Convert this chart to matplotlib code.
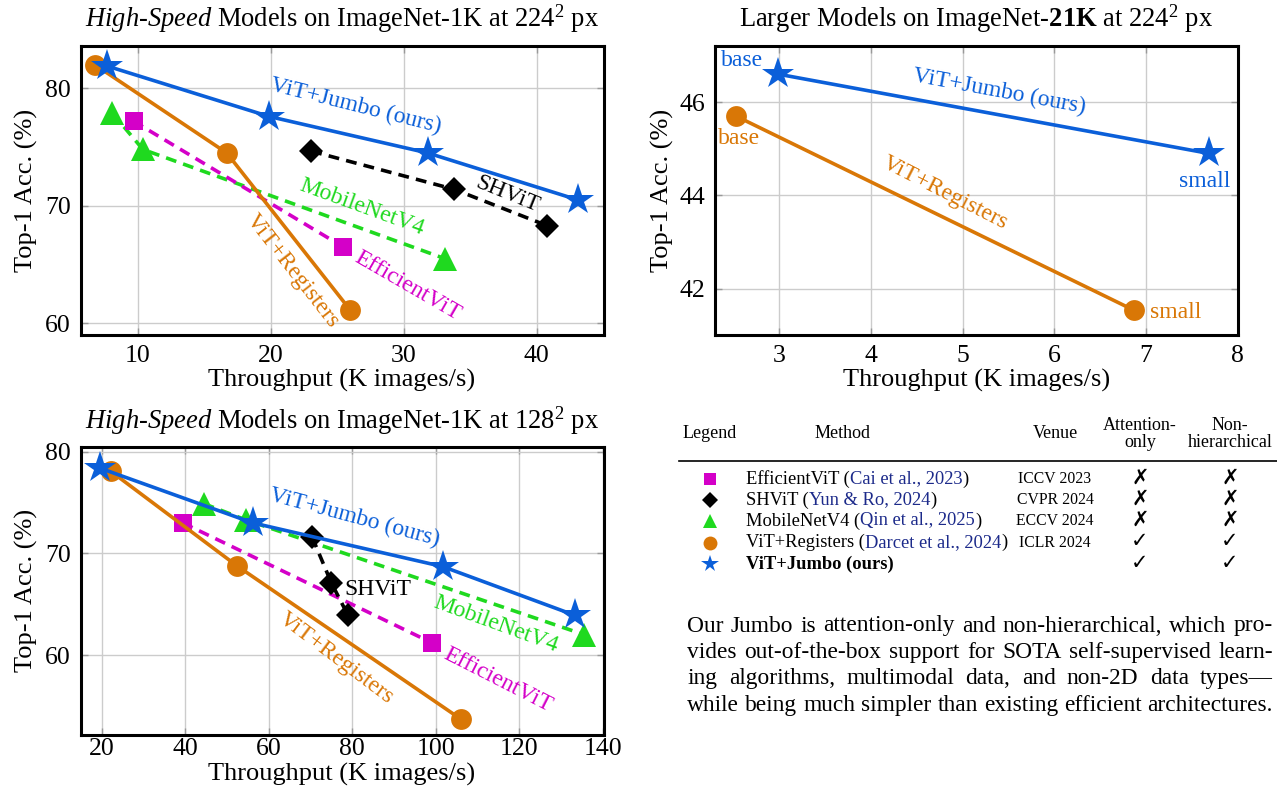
import matplotlib
matplotlib.use('Agg')
import matplotlib.pyplot as plt

plt.rcParams['font.family'] = ['Liberation Serif', 'DejaVu Sans']
plt.rcParams['mathtext.fontset'] = 'custom'
plt.rcParams['mathtext.rm'] = 'Liberation Serif'
plt.rcParams['mathtext.it'] = 'Liberation Serif:italic'
plt.rcParams['mathtext.bf'] = 'Liberation Serif:bold'

BLUE = '#0b5fd9'
ORANGE = '#d97706'
GREEN = '#1fd91f'
MAGENTA = '#d400c8'
CITE = '#1c2a8a'

# ImageNet-1K at 224px (throughput in K images/s, top-1 in %)
tp224_jumbo = [7.7, 19.9, 31.8, 43.1]
acc224_jumbo = [81.9, 77.6, 74.5, 70.5]
tp224_reg = [6.8, 16.7, 26.0]
acc224_reg = [82.0, 74.5, 61.1]
tp224_shvit = [23.05, 33.8, 40.8]
acc224_shvit = [74.65, 71.4, 68.3]
tp224_mnv4 = [8.1, 10.4, 33.1]
acc224_mnv4 = [77.9, 74.8, 65.5]
tp224_effvit = [9.7, 25.45]
acc224_effvit = [77.2, 66.5]

# ImageNet-21K at 224px
tp21k_jumbo = [2.99, 7.69]
acc21k_jumbo = [46.6, 44.9]
tp21k_reg = [2.53, 6.87]
acc21k_reg = [45.7, 41.54]

# ImageNet-1K at 128px
tp128_jumbo = [19.5, 56.2, 101.7, 133.4]
acc128_jumbo = [78.4, 73.0, 68.7, 63.9]
tp128_reg = [22.1, 52.3, 106.0]
acc128_reg = [78.1, 68.8, 53.7]
tp128_shvit = [70.4, 75.0, 79.0]
acc128_shvit = [71.6, 67.1, 63.9]
tp128_mnv4 = [44.4, 54.5, 135.6]
acc128_mnv4 = [74.9, 73.3, 62.0]
tp128_effvit = [39.4, 99.1]
acc128_effvit = [73.0, 61.2]

styles = {
    'mnv4': dict(color=GREEN, marker='^', ms=17, ls=(0, (3, 2))),
    'effvit': dict(color=MAGENTA, marker='s', ms=13, ls=(0, (3, 2))),
    'shvit': dict(color='black', marker='D', ms=12, ls=(0, (3, 2))),
    'reg': dict(color=ORANGE, marker='o', ms=15, ls='-'),
    'jumbo': dict(color=BLUE, marker='*', ms=24, ls='-'),
}

fig = plt.figure(figsize=(12.77, 7.91), dpi=100)


def draw(ax, key, x, y):
    s = styles[key]
    ax.plot(x, y, color=s['color'], marker=s['marker'], markersize=s['ms'],
            linestyle=s['ls'], linewidth=2.6, markeredgewidth=0)


def style_axes(ax, xlim, ylim, xticks, yticks, xpad, xlab_y):
    ax.set_xlim(xlim)
    ax.set_ylim(ylim)
    ax.set_xticks(xticks)
    ax.set_yticks(yticks)
    ax.grid(True, color='#cccccc', linewidth=1.0)
    ax.set_axisbelow(True)
    for sp in ax.spines.values():
        sp.set_linewidth(2.2)
    ax.tick_params(direction='in', length=5, width=1, color='#999999',
                   labelsize=18.5, top=True, right=True)
    ax.tick_params(axis='x', pad=xpad)
    ax.tick_params(axis='y', pad=7)
    ax.set_xlabel('Throughput (K images/s)', fontsize=19, va='center')
    ax.set_ylabel('Top-1 Acc. (%)', fontsize=19, va='center')
    ax.xaxis.set_label_coords(0.5, xlab_y)
    ax.yaxis.set_label_coords(-0.104, 0.5)


def label(ax, x, y, s, color, rot, size=17):
    ax.text(x, y, s, color=color, fontsize=size, rotation=rot,
            rotation_mode='anchor', ha='center', va='center')


# ---- top left
ax1 = fig.add_axes([80.5 / 1277, 1 - 335 / 791, 523 / 1277, 289.3 / 791])
draw(ax1, 'mnv4', tp224_mnv4, acc224_mnv4)
draw(ax1, 'effvit', tp224_effvit, acc224_effvit)
draw(ax1, 'shvit', tp224_shvit, acc224_shvit)
draw(ax1, 'reg', tp224_reg, acc224_reg)
draw(ax1, 'jumbo', tp224_jumbo, acc224_jumbo)
style_axes(ax1, (5.71, 45.02), (59.0, 83.63), [10, 20, 30, 40], [60, 70, 80], 7, -0.156)
ax1.text(0.5, 1.065, r'$\mathit{High}$-$\mathit{Speed}$ Models on ImageNet-1K at 224$^2$ px',
         transform=ax1.transAxes, ha='center', va='baseline', fontsize=19.1)
label(ax1, 26.4, 78.5, 'ViT+Jumbo (ours)', BLUE, -14)
label(ax1, 37.8, 71.0, 'SHViT', 'black', -22)
label(ax1, 26.85, 69.85, 'MobileNetV4', GREEN, -20)
label(ax1, 30.27, 63.2, 'EfficientViT', MAGENTA, -30)
label(ax1, 21.65, 64.47, 'ViT+Registers', ORANGE, -52)

# ---- top right
ax2 = fig.add_axes([715 / 1277, 1 - 335 / 791, 522.6 / 1277, 289.3 / 791])
draw(ax2, 'reg', tp21k_reg, acc21k_reg)
draw(ax2, 'jumbo', tp21k_jumbo, acc21k_jumbo)
style_axes(ax2, (2.30, 8.0), (41.01, 47.21), [3, 4, 5, 6, 7, 8], [42, 44, 46], 7, -0.156)
ax2.yaxis.set_label_coords(-0.101, 0.5)
ax2.text(0.5, 1.066, r'Larger Models on ImageNet-$\mathbf{21K}$ at 224$^2$ px',
         transform=ax2.transAxes, ha='center', va='baseline', fontsize=19.1)
label(ax2, 5.40, 46.23, 'ViT+Jumbo (ours)', BLUE, -10.5)
label(ax2, 4.81, 44.06, 'ViT+Registers', ORANGE, -27)
label(ax2, 2.60, 46.89, 'base', BLUE, 0)
label(ax2, 2.56, 45.23, 'base', ORANGE, 0)
label(ax2, 7.64, 44.31, 'small', BLUE, 0)
label(ax2, 7.32, 41.50, 'small', ORANGE, 0)

# ---- bottom left
ax3 = fig.add_axes([80.5 / 1277, 1 - 735 / 791, 523 / 1277, 288.3 / 791])
draw(ax3, 'mnv4', tp128_mnv4, acc128_mnv4)
draw(ax3, 'effvit', tp128_effvit, acc128_effvit)
draw(ax3, 'reg', tp128_reg, acc128_reg)
draw(ax3, 'shvit', tp128_shvit, acc128_shvit)
draw(ax3, 'jumbo', tp128_jumbo, acc128_jumbo)
style_axes(ax3, (14.9, 140.2), (52.13, 80.5), [20, 40, 60, 80, 100, 120, 140],
           [60, 70, 80], 2, -0.137)
ax3.text(0.5, 1.064, r'$\mathit{High}$-$\mathit{Speed}$ Models on ImageNet-1K at 128$^2$ px',
         transform=ax3.transAxes, ha='center', va='baseline', fontsize=19.1)
label(ax3, 80.6, 73.5, 'ViT+Jumbo (ours)', BLUE, -15)
label(ax3, 86.1, 66.4, 'SHViT', 'black', 0)
label(ax3, 114.5, 63.0, 'MobileNetV4', GREEN, -20)
label(ax3, 114.9, 57.55, 'EfficientViT', MAGENTA, -27)
label(ax3, 76.1, 59.7, 'ViT+Registers', ORANGE, -37)

# ---- table and text, in pixel coordinates
ov = fig.add_axes([0, 0, 1, 1])
ov.set_xlim(0, 1277)
ov.set_ylim(791, 0)
ov.axis('off')
ov.patch.set_visible(False)

methods = ['EfficientViT', 'SHViT', 'MobileNetV4', 'ViT+Registers', 'ViT+Jumbo (ours)']
citations = ['Cai et al., 2023', 'Yun & Ro, 2024', 'Qin et al., 2025', 'Darcet et al., 2024', '']
venues = ['ICCV 2023', 'CVPR 2024', 'ECCV 2024', 'ICLR 2024', '']
attn_only = [False, False, False, True, True]
non_hier = [False, False, False, True, True]
keys = ['effvit', 'shvit', 'mnv4', 'reg', 'jumbo']
legend_ms = {'effvit': 8.5, 'shvit': 8, 'mnv4': 9.5, 'reg': 10, 'jumbo': 13}

hdr = 13
ov.text(710, 433, 'Legend', fontsize=hdr, ha='center', va='center')
ov.text(843, 433, 'Method', fontsize=hdr, ha='center', va='center')
ov.text(1055, 433, 'Venue', fontsize=hdr, ha='center', va='center')
ov.text(1140, 434, 'Attention-\nonly', fontsize=hdr, ha='center', va='center', linespacing=1.0)
ov.text(1230, 434, 'Non-\nhierarchical', fontsize=hdr, ha='center', va='center', linespacing=1.0)
ov.plot([678.5, 1277], [461, 461], color='black', linewidth=1.2)

fig.canvas.draw()
renderer = fig.canvas.get_renderer()


def runs(x, y, parts, size):
    for txt, color, weight in parts:
        t = ov.text(x, y, txt, fontsize=size, color=color, fontweight=weight,
                    ha='left', va='center')
        x += t.get_window_extent(renderer).width


row_y = [479, 500, 521, 542.7, 564.3]
for i, k in enumerate(keys):
    y = row_y[i]
    s = styles[k]
    ov.plot([710], [y], marker=s['marker'], color=s['color'], markersize=legend_ms[k],
            markeredgewidth=0, linestyle='none')
    if citations[i]:
        runs(746.3, y, [(methods[i] + ' (', 'black', 'normal'),
                        (citations[i], CITE, 'normal'),
                        (')', 'black', 'normal')], 13.3)
    else:
        runs(746.3, y, [(methods[i], 'black', 'bold')], 13.3)
    ov.text(1055, y, venues[i], fontsize=11.3, ha='center', va='center')
    ov.text(1140, y, '\u2713' if attn_only[i] else '\u2717', fontsize=15,
            ha='center', va='center')
    ov.text(1230, y, '\u2713' if non_hier[i] else '\u2717', fontsize=15,
            ha='center', va='center')

para = [
    'Our Jumbo is attention-only and non-hierarchical, which pro-',
    'vides out-of-the-box support for SOTA self-supervised learn-',
    'ing algorithms, multimodal data, and non-2D data types\u2014',
    'while being much simpler than existing efficient architectures.',
]
x0, x1 = 687.4, 1273
for i, line in enumerate(para):
    y = 626 + i * 26.4
    words = line.split(' ')
    arts = [ov.text(0, y, w, fontsize=16.8, ha='left', va='center') for w in words]
    widths = [a.get_window_extent(renderer).width for a in arts]
    gap = (x1 - x0 - sum(widths)) / (len(words) - 1)
    x = x0
    for a, w in zip(arts, widths):
        a.set_x(x)
        x += w + gap

fig.savefig('out.png', dpi=100)
